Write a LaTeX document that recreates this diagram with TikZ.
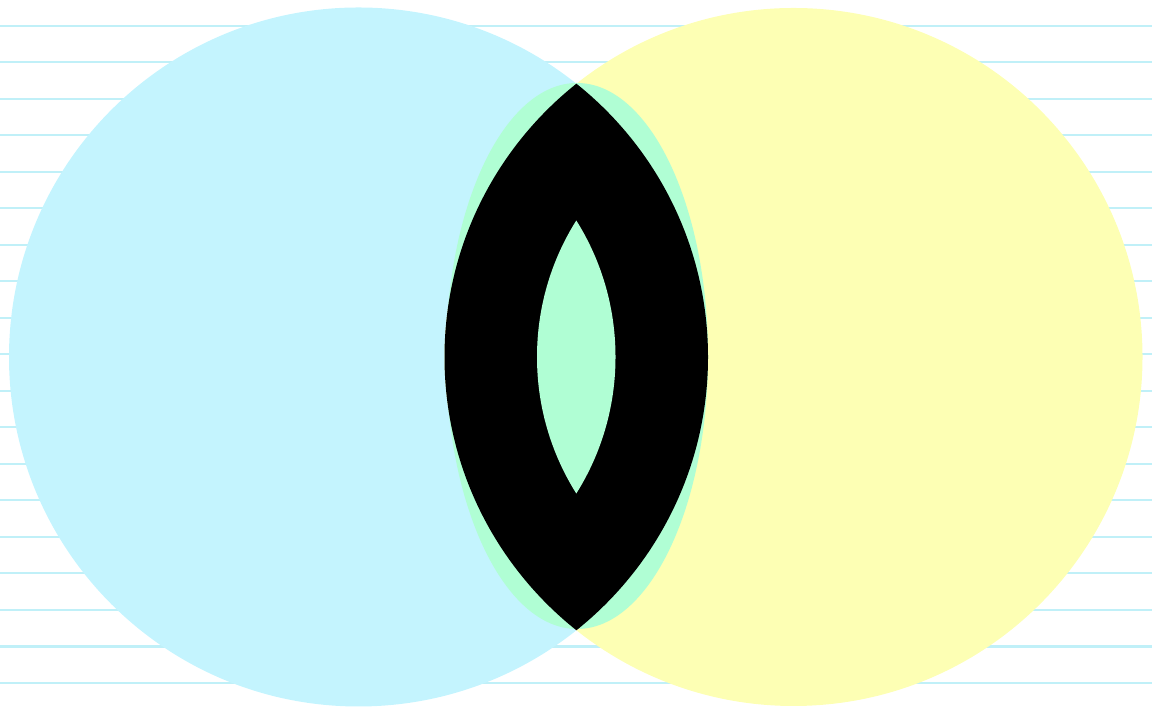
\documentclass[tikz,border=0pt]{standalone}
\usepackage{tikz}
\definecolor{skyfill}{HTML}{C4F4FE}
\definecolor{lemonfill}{HTML}{FDFFB4}
\definecolor{mintfill}{HTML}{B0FED4}
\definecolor{ruleline}{HTML}{C0F0F8}
\tikzset{ruling/.style={ruleline,line width=0.02cm}}

\begin{document}
\begin{tikzpicture}[scale=1]
\useasboundingbox (0,0) rectangle (11.52,7.08);
\coordinate (L) at (3.585,3.51); \coordinate (R) at (7.935,3.51); \coordinate (M) at (5.77,3.52);
\foreach \k in {0,...,18} \draw[ruling] (0,{6.82-0.365*\k}) -- (11.52,{6.82-0.365*\k});
\fill[skyfill] (L) circle (3.495);
\fill[lemonfill] (R) circle (3.49);
\fill[mintfill] (M) ellipse (1.31 and 2.73);
\begin{scope}
\clip (L) circle (3.495);
\fill[black] (R) circle (3.49);
\end{scope}
\begin{scope}
\clip (L) circle (2.57);
\fill[mintfill] (R) circle (2.565);
\end{scope}
\end{tikzpicture}
\end{document}
